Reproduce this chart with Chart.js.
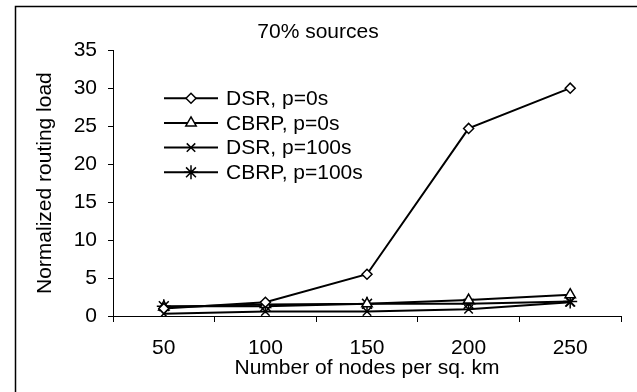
<!DOCTYPE html>
<html>
<head>
<meta charset="utf-8">
<script src="https://cdn.jsdelivr.net/npm/chart.js@4.4.1/dist/chart.umd.min.js"></script>
<style>
  html, body { margin: 0; padding: 0; background: #fff; }
  #wrap { width: 637px; height: 392px; }
</style>
</head>
<body>
<div id="wrap"><canvas id="chart" width="637" height="392"></canvas></div>
<script>
// Data
const nodes = ['50', '100', '150', '200', '250'];
const dsrP0 = [1.0, 1.8, 5.5, 24.7, 30.0];
const cbrpP0 = [1.2, 1.5, 1.6, 2.1, 2.8];
const dsrP100 = [0.3, 0.6, 0.6, 0.9, 1.8];
const cbrpP100 = [1.3, 1.3, 1.6, 1.6, 1.9];
const yTicks = [0, 5, 10, 15, 20, 25, 30, 35];

const FONT = "'Liberation Sans', Arial, sans-serif";

// outer frame (only left and top edges are visible in the picture)
const framePlugin = {
  id: 'frame',
  beforeDraw(chart) {
    const ctx = chart.ctx;
    ctx.save();
    ctx.fillStyle = '#fff';
    ctx.fillRect(0, 0, chart.width, chart.height);
    ctx.strokeStyle = '#000';
    ctx.lineWidth = 1.5;
    ctx.strokeRect(15.5, 6.5, chart.width, chart.height);
    ctx.restore();
  }
};

// legend inside the plot: line with marker through it, then the label
const innerLegend = {
  id: 'innerLegend',
  afterDraw(chart) {
    const ctx = chart.ctx;
    const area = chart.chartArea;
    const x0 = area.left + 51, x1 = area.left + 105;
    let y = area.top + 48;
    ctx.save();
    chart.data.datasets.forEach(ds => {
      ctx.strokeStyle = '#000';
      ctx.lineWidth = 2;
      ctx.beginPath();
      ctx.moveTo(x0, y);
      ctx.lineTo(x1, y);
      ctx.stroke();
      ctx.fillStyle = '#fff';
      ctx.strokeStyle = '#000';
      ctx.lineWidth = ds.pointBorderWidth;
      Chart.helpers.drawPoint(ctx, {
        pointStyle: ds.pointStyle,
        radius: ds.pointRadius,
        rotation: 0,
        borderWidth: ds.pointBorderWidth
      }, (x0 + x1) / 2, y);
      ctx.fillStyle = '#000';
      ctx.font = '21px ' + FONT;
      ctx.textBaseline = 'middle';
      ctx.textAlign = 'left';
      ctx.fillText(ds.label, x1 + 8, y + 1);
      y += 24.7;
    });
    ctx.restore();
  }
};

function series(label, data, style, radius) {
  return {
    label,
    data,
    borderColor: '#000',
    borderWidth: 2,
    backgroundColor: '#fff',
    pointStyle: style,
    pointRadius: radius,
    pointBorderWidth: 1.5,
    pointBackgroundColor: '#fff',
    pointBorderColor: '#000',
    tension: 0,
    fill: false
  };
}

new Chart(document.getElementById('chart'), {
  type: 'line',
  data: {
    labels: nodes,
    datasets: [
      series('DSR, p=0s', dsrP0, 'rectRot', 5),
      series('CBRP, p=0s', cbrpP0, 'triangle', 6),
      series('DSR, p=100s', dsrP100, 'crossRot', 6),
      series('CBRP, p=100s', cbrpP100, 'star', 7)
    ]
  },
  options: {
    responsive: false,
    animation: false,
    layout: { padding: { left: 15, top: 7, right: 16, bottom: 0 } },
    plugins: {
      legend: { display: false },
      tooltip: { enabled: false },
      title: {
        display: true,
        text: '70% sources',
        color: '#000',
        font: { family: FONT, size: 21, weight: 'normal' },
        padding: { top: 13, bottom: 5 }
      }
    },
    scales: {
      x: {
        type: 'category',
        offset: true,
        grid: { offset: true, drawOnChartArea: false, drawTicks: true, tickLength: 6, color: '#000', lineWidth: 1 },
        border: { display: true, color: '#000', width: 1 },
        ticks: { color: '#000', font: { family: FONT, size: 21 }, padding: 14, maxRotation: 0 },
        title: {
          display: true,
          text: 'Number of nodes per sq. km',
          color: '#000',
          font: { family: FONT, size: 21 },
          padding: { top: 0, bottom: 11 }
        },
        afterFit(scale) { scale.height = 76; }
      },
      y: {
        min: 0,
        max: 35,
        afterBuildTicks(scale) { scale.ticks = yTicks.map(v => ({ value: v })); },
        grid: { drawOnChartArea: false, drawTicks: true, tickLength: 5, color: '#000', lineWidth: 1 },
        border: { display: true, color: '#000', width: 1 },
        ticks: { color: '#000', font: { family: FONT, size: 21 }, padding: 11 },
        title: {
          display: true,
          text: 'Normalized routing load',
          color: '#000',
          font: { family: FONT, size: 21 },
          padding: { top: 18, bottom: 0 }
        },
        afterFit(scale) { scale.width = 98; }
      }
    }
  },
  plugins: [framePlugin, innerLegend]
});
</script>
</body>
</html>
